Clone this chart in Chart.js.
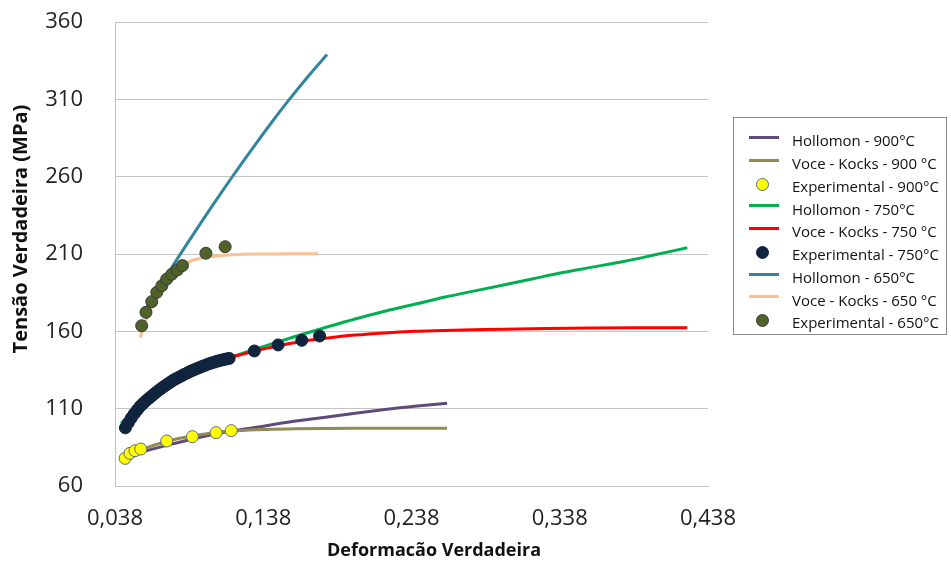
<!DOCTYPE html>
<html>
<head>
<meta charset="utf-8">
<script src="https://cdn.jsdelivr.net/npm/chart.js"></script>
<style>
	body { margin: 0; background: #fff; }
	.wrap { position: relative; width: 951px; height: 565px; }
	#legend {
		position: absolute;
		left: 733px;
		top: 117px;
		width: 214px;
		height: 218px;
		box-sizing: border-box;
		border: 1px solid #8c8c8c;
		padding-top: 11px;
		font-family: 'Open Sans', sans-serif;
		font-size: 15px;
		color: #111;
	}
	.lg-item { position: relative; height: 22.75px; }
	.lg-line { position: absolute; left: 15px; top: 7px; width: 30px; height: 3px; }
	.lg-dot { position: absolute; left: 22px; top: 3px; width: 13px; height: 13px; border-radius: 50%; box-sizing: border-box; }
	.lg-text { position: absolute; left: 58px; top: 50%; transform: translateY(-50%); white-space: nowrap; }
</style>
</head>
<body>
<div class="wrap">
	<canvas id="chart"></canvas>
	<div id="legend"></div>
</div>
<script>
// axis ticks and titles
const xTicks = [0.038, 0.138, 0.238, 0.338, 0.438];
const yTicks = [60, 110, 160, 210, 260, 310, 360];
const xTitle = 'Deformacão Verdadeira';
const yTitle = 'Tensão Verdadeira (MPa)';

// 900 °C
const hol900X = [0.043, 0.06, 0.08, 0.1, 0.12, 0.14, 0.16, 0.18, 0.2, 0.22, 0.24, 0.262];
const hol900Y = [77.5, 83, 88, 92.5, 96, 99, 102, 104.5, 107, 109.5, 111.5, 113.5];
const voce900X = [0.043, 0.05, 0.06, 0.07, 0.08, 0.09, 0.1, 0.11, 0.12, 0.14, 0.16, 0.18, 0.2, 0.23, 0.262];
const voce900Y = [77.5, 81, 85, 88, 90.5, 92.3, 93.8, 95, 95.8, 96.6, 97, 97.2, 97.3, 97.4, 97.4];
const exp900X = [0.0448, 0.0481, 0.0515, 0.0554, 0.0729, 0.0902, 0.1062, 0.1164];
const exp900Y = [77.9, 81.1, 82.8, 83.9, 89.1, 91.9, 94.5, 95.8];

// 750 °C
const hol750X = [0.042, 0.05, 0.06, 0.07, 0.08, 0.09, 0.1, 0.12, 0.14, 0.16, 0.18, 0.2, 0.22, 0.24, 0.26, 0.28, 0.3, 0.32, 0.34, 0.36, 0.38, 0.4, 0.424];
const hol750Y = [100.5, 107, 114.5, 121.5, 127.5, 132.5, 137, 144.5, 150.8, 156.8, 162.5, 168, 173, 177.5, 182, 186, 190, 194, 198, 201.5, 205, 209, 214];
const voce750X = [0.044, 0.05, 0.06, 0.07, 0.08, 0.09, 0.1, 0.11, 0.12, 0.13, 0.14, 0.15, 0.16, 0.17, 0.18, 0.2, 0.22, 0.24, 0.26, 0.28, 0.3, 0.33, 0.36, 0.4, 0.424];
const voce750Y = [97, 105.5, 114.5, 121.5, 128, 133.8, 138, 141.5, 144.2, 146.7, 149, 151, 152.8, 154.4, 155.6, 157.6, 159, 160, 160.6, 161, 161.4, 161.8, 162.1, 162.3, 162.4];
const exp750X = [0.045, 0.047, 0.049, 0.051, 0.053, 0.055, 0.057, 0.059, 0.061, 0.063, 0.065, 0.067,
	0.069, 0.071, 0.073, 0.075, 0.077, 0.079, 0.081, 0.083, 0.085, 0.087, 0.089, 0.091,
	0.093, 0.095, 0.097, 0.099, 0.101, 0.103, 0.105, 0.107, 0.109, 0.111, 0.113, 0.115,
	0.132, 0.148, 0.164, 0.176];
const exp750Y = [97.6, 100.9, 104, 106.7, 109.2, 111.5, 113.4, 115.2, 116.8, 118.4, 120, 121.5,
	122.9, 124.3, 125.6, 126.9, 128.2, 129.3, 130.3, 131.3, 132.3, 133.2, 134.2, 135,
	135.8, 136.6, 137.4, 138.1, 138.9, 139.5, 140.1, 140.7, 141.2, 141.7, 142.1, 142.5,
	147.3, 151.2, 154.2, 157];

// 650 °C
const hol650X = [0.056, 0.065, 0.0774, 0.0877, 0.0977, 0.1067, 0.1157, 0.1247, 0.1337, 0.144, 0.154, 0.1675, 0.181];
const hol650Y = [170, 184, 203, 218.2, 232.7, 245.5, 258, 270.2, 282.2, 295.5, 308, 324, 339];
const voce650X = [0.055, 0.058, 0.062, 0.066, 0.07, 0.074, 0.078, 0.082, 0.086, 0.09, 0.095, 0.1, 0.11, 0.12, 0.14, 0.16, 0.175];
const voce650Y = [156, 165, 174, 182.5, 189, 194, 198, 201.5, 204, 205.8, 207, 208, 209, 209.6, 210, 210.2, 210.2];
const exp650X = [0.056, 0.0589, 0.0628, 0.0662, 0.0696, 0.0729, 0.0763, 0.0801, 0.0835, 0.0993, 0.1123];
const exp650Y = [163.6, 172.3, 179.2, 185.2, 189.5, 193.8, 196.9, 199.7, 202.5, 210.5, 214.7];

const pts = (xs, ys) => xs.map((x, i) => ({ x: x, y: ys[i] }));

function lineSet(label, xs, ys, color) {
	return {
		label: label,
		data: pts(xs, ys),
		showLine: true,
		borderColor: color,
		backgroundColor: color,
		borderWidth: 3,
		pointRadius: 0,
		cubicInterpolationMode: 'monotone'
	};
}

function dotSet(label, xs, ys, color, edge) {
	return {
		label: label,
		data: pts(xs, ys),
		showLine: false,
		backgroundColor: color,
		borderColor: edge,
		borderWidth: 1,
		pointRadius: 6
	};
}

const datasets = [
	lineSet('Hollomon - 900°C', hol900X, hol900Y, '#604A7B'),
	lineSet('Voce - Kocks - 900 °C', voce900X, voce900Y, '#948A54'),
	dotSet('Experimental - 900°C', exp900X, exp900Y, '#FFFF00', '#5b6b7b'),
	lineSet('Hollomon - 750°C', hol750X, hol750Y, '#00B050'),
	lineSet('Voce - Kocks - 750 °C', voce750X, voce750Y, '#FF0000'),
	dotSet('Experimental - 750°C', exp750X, exp750Y, '#10243E', '#10243E'),
	lineSet('Hollomon - 650°C', hol650X, hol650Y, '#31859C'),
	lineSet('Voce - Kocks - 650 °C', voce650X, voce650Y, '#FAC090'),
	dotSet('Experimental - 650°C', exp650X, exp650Y, '#4F6228', '#3a3a3a')
];
// later series on top, like the spreadsheet
datasets.forEach((d, i) => { d.order = datasets.length - i; });

const axisTitles = {
	id: 'axisTitles',
	afterDraw(chart) {
		const ctx = chart.ctx;
		ctx.save();
		ctx.fillStyle = '#111';
		ctx.textAlign = 'center';
		ctx.textBaseline = 'middle';
		ctx.font = 'bold 18px "Open Sans"';
		ctx.fillText(xTitle, 434, 551);
		ctx.font = 'bold 20px "Open Sans"';
		ctx.translate(21, 229);
		ctx.rotate(-Math.PI / 2);
		ctx.fillText(yTitle, 0, 0);
		ctx.restore();
	}
};

Chart.defaults.font.family = '"Open Sans", sans-serif';
Chart.defaults.color = '#222';

new Chart(document.getElementById('chart'), {
	type: 'scatter',
	data: { datasets: datasets },
	options: {
		responsive: true,
		maintainAspectRatio: false,
		animation: false,
		layout: { padding: { top: 22, right: 243, left: 0, bottom: 0 } },
		plugins: {
			legend: { display: false },
			tooltip: { enabled: false }
		},
		scales: {
			x: {
				type: 'linear',
				min: xTicks[0],
				max: xTicks[xTicks.length - 1],
				afterBuildTicks: (s) => { s.ticks = xTicks.map(v => ({ value: v })); },
				afterFit: (s) => { s.height = 79; s.paddingLeft = 0; s.paddingRight = 0; },
				grid: { display: false, drawTicks: false },
				border: { display: true, color: '#bfbfbf', width: 1 },
				ticks: {
					padding: 20,
					font: { size: 22 },
					callback: (v) => v.toFixed(3).replace('.', ',')
				}
			},
			y: {
				type: 'linear',
				min: yTicks[0],
				max: yTicks[yTicks.length - 1],
				afterBuildTicks: (s) => { s.ticks = yTicks.map(v => ({ value: v })); },
				afterFit: (s) => { s.width = 115; s.paddingTop = 0; s.paddingBottom = 0; },
				grid: { color: '#c4c4c4', lineWidth: 1, drawTicks: false },
				border: { display: true, color: '#bfbfbf', width: 1 },
				ticks: {
					padding: 32,
					font: { size: 22 },
					callback: (v) => String(v)
				}
			}
		}
	},
	plugins: [axisTitles]
});

// legend box, built from the datasets
const legend = document.getElementById('legend');
datasets.forEach(d => {
	const item = document.createElement('div');
	item.className = 'lg-item';
	const sw = document.createElement('span');
	if (d.showLine) {
		sw.className = 'lg-line';
		sw.style.background = d.borderColor;
	} else {
		sw.className = 'lg-dot';
		sw.style.background = d.backgroundColor;
		sw.style.border = '1px solid ' + d.borderColor;
	}
	const tx = document.createElement('span');
	tx.className = 'lg-text';
	tx.textContent = d.label;
	item.appendChild(sw);
	item.appendChild(tx);
	legend.appendChild(item);
});
</script>
</body>
</html>
